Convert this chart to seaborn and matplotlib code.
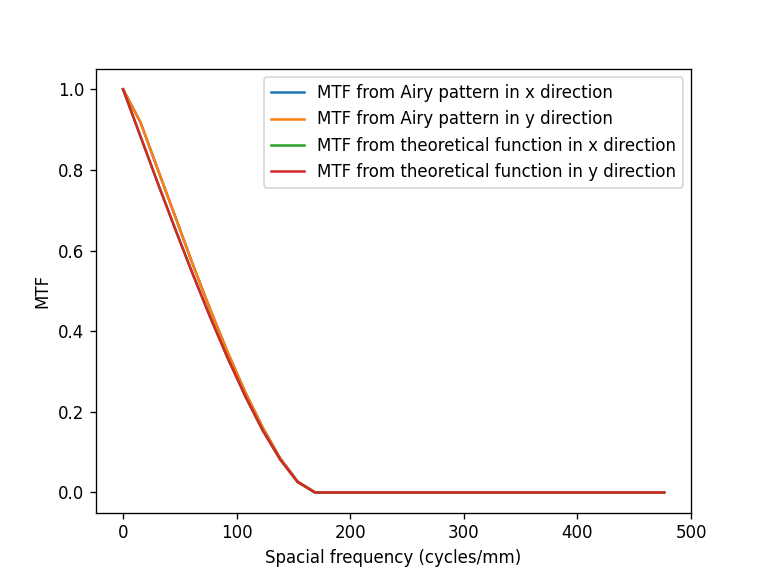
import matplotlib
matplotlib.use("Agg")
import matplotlib.pyplot as plt
import seaborn as sns

# spatial frequency samples (cycles/mm)
freq = [0.0, 15.37, 30.73, 46.10, 61.46, 76.83, 92.19, 107.56, 122.92, 138.29,
        153.65, 169.02, 184.38, 199.75, 215.11, 230.48, 245.84, 261.21, 276.57, 291.94,
        307.30, 322.67, 338.03, 353.40, 368.76, 384.13, 399.49, 414.86, 430.22, 445.59,
        460.95, 476.32]

airy_x = [1.0, 0.918, 0.800, 0.683, 0.565, 0.453, 0.347, 0.249, 0.161, 0.085,
          0.027, 0.0, 0.0, 0.0, 0.0, 0.0, 0.0, 0.0, 0.0, 0.0,
          0.0, 0.0, 0.0, 0.0, 0.0, 0.0, 0.0, 0.0, 0.0, 0.0,
          0.0, 0.0]
airy_y = [1.0, 0.918, 0.800, 0.683, 0.565, 0.453, 0.347, 0.249, 0.161, 0.085,
          0.027, 0.0, 0.0, 0.0, 0.0, 0.0, 0.0, 0.0, 0.0, 0.0,
          0.0, 0.0, 0.0, 0.0, 0.0, 0.0, 0.0, 0.0, 0.0, 0.0,
          0.0, 0.0]
theo_x = [1.0, 0.883, 0.766, 0.652, 0.541, 0.434, 0.333, 0.239, 0.154, 0.082,
          0.026, 0.0, 0.0, 0.0, 0.0, 0.0, 0.0, 0.0, 0.0, 0.0,
          0.0, 0.0, 0.0, 0.0, 0.0, 0.0, 0.0, 0.0, 0.0, 0.0,
          0.0, 0.0]
theo_y = [1.0, 0.883, 0.766, 0.652, 0.541, 0.434, 0.333, 0.239, 0.154, 0.082,
          0.026, 0.0, 0.0, 0.0, 0.0, 0.0, 0.0, 0.0, 0.0, 0.0,
          0.0, 0.0, 0.0, 0.0, 0.0, 0.0, 0.0, 0.0, 0.0, 0.0,
          0.0, 0.0]

fig, ax = plt.subplots(figsize=(6.4, 4.8), dpi=120)

sns.lineplot(x=freq, y=airy_x, ax=ax, label="MTF from Airy pattern in x direction")
sns.lineplot(x=freq, y=airy_y, ax=ax, label="MTF from Airy pattern in y direction")
sns.lineplot(x=freq, y=theo_x, ax=ax, label="MTF from theoretical function in x direction")
sns.lineplot(x=freq, y=theo_y, ax=ax, label="MTF from theoretical function in y direction")

ax.set_xlabel("Spacial frequency (cycles/mm)")
ax.set_ylabel("MTF")
ax.legend(loc="upper right")

fig.savefig("out.png", dpi=120)
